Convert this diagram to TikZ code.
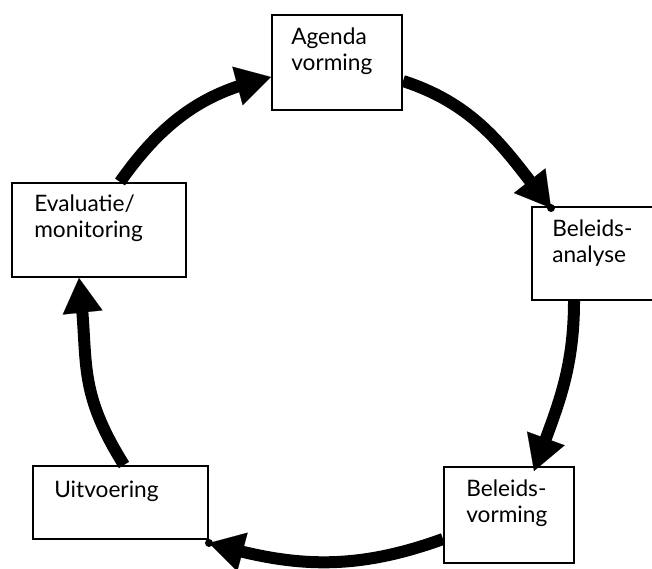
\documentclass[tikz,border=0pt]{standalone}
\usepackage{fontspec}
\setmainfont{Lato}
\usetikzlibrary{arrows.meta,decorations.markings}
\begin{document}
\begin{tikzpicture}[x=0.75pt,y=0.75pt,
  box/.style={draw=black, line width=1.5pt, fill=white, inner sep=0pt},
  txt/.style={inner sep=0pt, align=left, anchor=north west, font=\fontsize{17}{19.3}\selectfont},
  flow/.style={line width=9pt, shorten >=14pt, postaction={decorate},
    decoration={markings, mark=at position 1 with {\arrow[line width=0.1pt]{Triangle[length=26pt,width=30pt]}}}},
  tipdot/.style={fill=black}]
\useasboundingbox (0,0) rectangle (652,568);
\clip (0,0) rectangle (652,568);
% boxes
\node[box, minimum width=97.5pt, minimum height=71.25pt] (ag) at (337,505.5) {};
\node[box, minimum width=97.5pt, minimum height=69.75pt] (an) at (597,314.5) {};
\node[box, minimum width=97.5pt, minimum height=72pt] (vo) at (509,53) {};
\node[box, minimum width=130.5pt, minimum height=70.5pt] (ev) at (99,338) {};
\node[box, minimum width=131.25pt, minimum height=54.75pt] (ui) at (120.5,65.5) {};
% texts
\node[txt] (agt) at ([shift={(20,-14)}]ag.north west) {Agenda\\vorming};
\node[txt] (ant) at ([shift={(21,-14)}]an.north west) {Beleids-\\analyse};
\node[txt] (vot) at ([shift={(23,-14)}]vo.north west) {Beleids-\\vorming};
\node[txt] (evt) at ([shift={(23,-13)}]ev.north west) {Evaluatie/\\monitoring};
\node[txt] (uit) at ([shift={(22,-16)}]ui.north west) {Uitvoering};
% connector ends
\coordinate (s1) at ([shift={(109,0)}]ev.north west);
\coordinate (t1) at ([shift={(0,-14.5)}]ag.west);
\coordinate (s2) at ([shift={(0,-18.5)}]ag.east);
\coordinate (t2) at ([shift={(20,-2)}]an.north west);
\coordinate (s3) at ([shift={(43,0)}]an.south west);
\coordinate (t3) at ([shift={(91,-5)}]vo.north west);
\coordinate (s4) at ([shift={(0,-24)}]vo.west);
\coordinate (t4) at ([shift={(0,-3)}]ui.south east);
\coordinate (s5) at ([shift={(92,0)}]ui.north west);
\coordinate (t5) at ([shift={(68,0)}]ev.south west);
% connectors
\draw[flow] (s1) to[out=55,in=195] (t1);
\draw[flow] (s2) to[out=-18,in=128] (t2);
\draw[flow] (s3) to[out=-90,in=70] (t3);
\draw[flow] (s4) to[out=200,in=-15] (t4);
\draw[flow] (s5) to[out=122,in=-84,looseness=1.15] (t5);
\fill[tipdot] (t2) circle (4);
\fill[tipdot] (t4) circle (4);
\end{tikzpicture}
\end{document}
